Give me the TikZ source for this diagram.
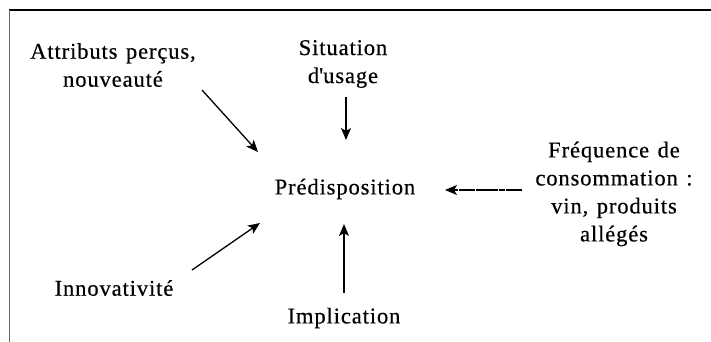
\documentclass[tikz,border=0pt]{standalone}
\usepackage{fontspec}
\setmainfont{Liberation Serif}[LetterSpace=4.0,WordSpace=1.3,FakeBold=0.5]
\usetikzlibrary{arrows.meta}
\begin{document}
\begin{tikzpicture}[x=1pt,y=-1pt,
  lbl/.style={align=center,inner sep=0pt,font=\fontsize{22.5}{28}\selectfont},
  arr/.style={line width=1.3pt,-{Stealth[length=12pt,width=10pt,inset=3pt]}},
  frame/.style={line width=1.6pt},
  side/.style={line width=1pt,black!60}]
\useasboundingbox (0,0) rectangle (711,342);
\draw[frame] (9,10) -- (711,10);
\draw[side] (9,10) -- (9,342);
\node[lbl] (attr) at (113,65) {Attributs perçus,\\nouveauté};
\node[lbl] (sit) at (343,64) {Situation\\d\textquotesingle usage};
\node[lbl] (pred) at (345,189) {Prédisposition};
\node[lbl] (freq) at (614,194) {Fréquence de\\consommation :\\vin, produits\\allégés};
\node[lbl] (innov) at (114,288) {Innovativité};
\node[lbl] (impl) at (344,318) {Implication};
\coordinate (a1) at (202,90);  \coordinate (p1) at (258,152);
\coordinate (a2) at (346,97);  \coordinate (p2) at (346,140);
\coordinate (a3) at (522,190); \coordinate (p3) at (445,190);
\coordinate (a4) at (192,270); \coordinate (p4) at (260,223);
\coordinate (a5) at (344,293); \coordinate (p5) at (344,224);
\draw[arr] (a1) -- (p1);
\draw[arr] (a2) -- (p2);
\draw[arr,dash pattern=on 16pt off 0.8pt on 6pt off 0.8pt] (a3) -- (p3);
\draw[arr] (a4) -- (p4);
\draw[arr] (a5) -- (p5);
\end{tikzpicture}
\end{document}
